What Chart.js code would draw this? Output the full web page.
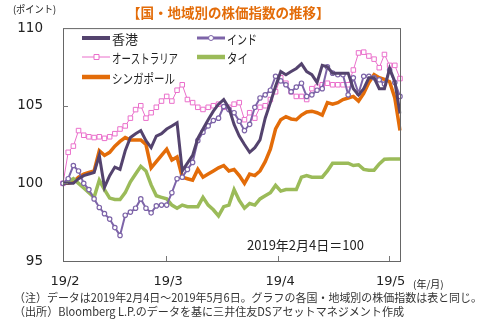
<!DOCTYPE html>
<html>
<head>
<meta charset="utf-8">
<script src="https://cdn.jsdelivr.net/npm/chart.js@4.4.1/dist/chart.umd.min.js"></script>
<style>
  html, body { margin: 0; padding: 0; background: #fff; }
</style>
</head>
<body>
<canvas id="chart" width="497" height="326"></canvas>
<script>
// trading days 2019/2/4 - 2019/5/6
const dates = [
  "2/4","2/5","2/6","2/7","2/8","2/11","2/12","2/13","2/14","2/15",
  "2/18","2/19","2/20","2/21","2/22","2/25","2/26","2/27","2/28","3/1",
  "3/4","3/5","3/6","3/7","3/8","3/11","3/12","3/13","3/14","3/15",
  "3/18","3/19","3/20","3/21","3/22","3/25","3/26","3/27","3/28","3/29",
  "4/1","4/2","4/3","4/4","4/5","4/8","4/9","4/10","4/11","4/12",
  "4/15","4/16","4/17","4/18","4/19","4/22","4/23","4/24","4/25","4/26",
  "4/29","4/30","5/1","5/2","5/3","5/6"
];

const hongKong = [
  100, 100.0, 100.0, 100.3, 100.5, 100.6, 100.7, 101.8, 99.75, 100.5,
  101.05, 100.9, 102.1, 102.95, 103.2, 103.4, 102.75, 102.3, 103.05, 103.2,
  103.5, 103.7, 103.9, 100.8, 101.3, 101.8, 102.9, 103.5, 104.1, 104.65,
  105.1, 105.4, 104.86, 103.8, 103.05, 102.5, 102.0, 102.3, 102.8, 104.2,
  105.2, 106.25, 107.2, 107.0, 107.2, 107.4, 107.7, 107.2, 107.0, 106.5,
  107.6, 107.5, 107.1, 107.1, 107.1, 107.1, 106.1, 105.7, 106.1, 106.8,
  106.8, 106.1, 106.1, 107.4, 106.55, 104.5
];
const india = [
  100, 100.3, 101.15, 100.8, 100.0, 99.6, 99.0, 98.45, 98.05, 97.7,
  97.15, 96.65, 97.95, 98.15, 98.4, 99.0, 98.4, 98.1, 98.55, 98.6,
  98.6, 99.4, 100.3, 100.4, 100.9, 101.35, 102.75, 103.3, 103.7, 104.05,
  104.2, 104.95, 104.75, 104.55, 104.0, 103.4, 103.8, 104.9, 105.5, 105.7,
  106.0, 106.9, 106.6, 106.35, 105.9, 106.2, 106.45, 105.6, 105.7, 106.0,
  106.1, 107.5, 107.1, 107.0, 107.0, 105.7, 106.8, 105.8, 106.9, 106.9,
  106.8, 106.67, 106.4, 107.3, 106.5, 105.6
];
const australia = [
  100, 102.0, 102.4, 103.4, 103.1, 103.0, 102.95, 103.0, 102.9, 103.0,
  103.2, 103.5, 103.7, 104.2, 104.75, 105.0, 104.2, 104.55, 104.9, 105.3,
  105.6, 105.3, 106.0, 106.35, 105.4, 105.2, 104.9, 104.76, 104.9, 105.0,
  105.1, 104.9, 104.9, 105.1, 105.2, 104.1, 104.55, 104.2, 104.9, 105.0,
  105.4, 105.9, 106.8, 106.45, 105.9, 105.6, 105.6, 105.4, 106.1, 106.2,
  106.35, 106.45, 106.35, 106.35, 106.35, 106.35, 107.3, 108.4, 108.45, 108.2,
  108.0, 107.45, 108.3, 107.6, 107.6, 106.75
];
const thai = [
  100.0, 100.1, 100.3, 100.0, 99.7, 99.4, 99.1, 100.2, 99.6, 99.05,
  98.96, 98.96, 99.4, 100.1, 100.6, 101.1, 100.8, 99.9, 99.2, 99.1,
  99.0, 98.6, 98.4, 98.6, 98.5, 98.5, 98.5, 99.1, 98.6, 98.3,
  97.9, 98.5, 98.6, 99.6, 98.9, 98.4, 98.7, 98.6, 99.0, 99.2,
  99.4, 99.87, 99.5, 99.6, 99.6, 99.6, 100.4, 100.5, 100.4, 100.4,
  100.4, 100.8, 101.3, 101.3, 101.3, 101.3, 101.15, 101.2, 100.9, 100.85,
  100.85, 101.25, 101.55, 101.57, 101.57, 101.57
];
const singapore = [
  100.0, 100.0, 100.1, 100.4, 100.6, 100.7, 100.8, 102.1, 101.8, 102.0,
  102.4, 102.7, 102.95, 102.8, 102.8, 102.8, 102.5, 101.0, 101.4, 101.8,
  102.2, 101.5, 101.7, 100.4, 100.3, 100.2, 100.9, 100.4, 100.6, 100.8,
  101.0, 101.15, 100.8, 100.9, 100.5, 100.0, 100.6, 100.5, 100.8, 101.4,
  102.2, 103.5, 104.1, 104.3, 104.15, 104.1, 104.4, 104.6, 104.65, 104.55,
  104.4, 105.2, 105.1, 105.2, 105.4, 105.5, 105.6, 105.3, 105.8, 106.5,
  107.0, 106.8, 106.7, 106.55, 105.5, 103.4
];

const monthLabels = ["19/2", "19/3", "19/4", "19/5"];
const monthTickAt = [0, 19.9, 41.5, 62.8]; // position on the category scale

const JP = '"Noto Sans CJK JP", "Noto Sans", sans-serif';
const NUM = '"DejaVu Sans", sans-serif';

// legend slots inside the plot: [x, y, text max width]
const legendSlots = [[82, 38, 27], [197, 38, 30], [82, 57, 66], [197, 57, 21], [82, 77, 63]];

const decor = {
  id: 'decor',
  afterDraw(chart) {
    const ctx = chart.ctx, a = chart.chartArea;
    const xs = chart.scales.x, ys = chart.scales.y;
    ctx.save();

    // frame
    ctx.strokeStyle = '#666';
    ctx.lineWidth = 1;
    ctx.strokeRect(a.left + 0.5, a.top + 0.5, a.right - a.left, a.bottom - a.top);

    // inward tick marks
    ctx.strokeStyle = '#777';
    ctx.beginPath();
    [100, 105].forEach(v => {
      const py = Math.round(ys.getPixelForValue(v)) + 0.5;
      ctx.moveTo(a.left, py); ctx.lineTo(a.left + 5, py);
    });
    monthTickAt.slice(1).forEach(p => {
      const px = Math.round(xs.getPixelForValue(p)) + 0.5;
      ctx.moveTo(px, a.bottom); ctx.lineTo(px, a.bottom - 5);
    });
    ctx.stroke();

    // month labels
    ctx.fillStyle = '#222';
    ctx.font = '13px ' + NUM;
    ctx.textAlign = 'center';
    ctx.textBaseline = 'middle';
    monthLabels.forEach((t, i) => {
      ctx.fillText(t, xs.getPixelForValue(monthTickAt[i]) + 2, a.bottom + 21);
    });
    ctx.textAlign = 'left';
    ctx.font = '10px ' + JP;
    ctx.fillText('(年/月)', 413, a.bottom + 23);

    // unit
    ctx.font = '10px ' + JP;
    ctx.fillText('(ポイント)', 13, 9, 43);

    // title
    ctx.fillStyle = '#E36C09';
    ctx.font = 'bold 13.5px ' + JP;
    ctx.fillText('【国・地域別の株価指数の推移】', 127, 13, 204);

    // legend
    chart.data.datasets.forEach((ds, i) => {
      const [lx, ly, tw] = legendSlots[i];
      ctx.strokeStyle = ds.borderColor;
      ctx.lineWidth = ds.borderWidth < 2 ? 1 : ds.borderWidth + 1;
      ctx.beginPath(); ctx.moveTo(lx, ly); ctx.lineTo(lx + 28, ly); ctx.stroke();
      if (ds.pointRadius > 0) {
        ctx.lineWidth = 1;
        ctx.fillStyle = '#fff';
        ctx.beginPath();
        if (ds.pointStyle === 'rect') ctx.rect(lx + 12, ly - 2.5, 5, 5);
        else ctx.arc(lx + 14, ly, 2.5, 0, Math.PI * 2);
        ctx.fill(); ctx.stroke();
      }
      ctx.fillStyle = '#222';
      ctx.font = '13px ' + JP;
      ctx.fillText(ds.label, lx + 30, ly + 1, tw);
    });

    // base note
    ctx.fillStyle = '#222';
    ctx.font = '13px ' + JP;
    ctx.fillText('2019年2月4日＝100', 247, 245, 126);

    // footnotes
    ctx.fillStyle = '#333';
    ctx.font = '11.5px ' + JP;
    ctx.fillText('（注）データは2019年2月4日～2019年5月6日。グラフの各国・地域別の株価指数は表と同じ。', 14, 298, 468);
    ctx.fillText('（出所）Bloomberg L.P.のデータを基に三井住友DSアセットマネジメント作成', 14, 312, 390);

    ctx.restore();
  }
};

new Chart(document.getElementById('chart').getContext('2d'), {
  type: 'line',
  data: {
    labels: dates,
    datasets: [
      { label: '香港', data: hongKong, borderColor: '#54436E', borderWidth: 3, pointRadius: 0 },
      { label: 'インド', data: india, borderColor: '#7D64A8', borderWidth: 2, pointRadius: 2.2,
        pointStyle: 'circle', pointBackgroundColor: '#fff', pointBorderColor: '#7D64A8', pointBorderWidth: 1.2 },
      { label: 'オーストラリア', data: australia, borderColor: '#EA6FCB', borderWidth: 1, pointRadius: 3.2,
        pointStyle: 'rect', pointBackgroundColor: '#fff', pointBorderColor: '#EA6FCB', pointBorderWidth: 1 },
      { label: 'タイ', data: thai, borderColor: '#9BBB59', borderWidth: 3.5, pointRadius: 0 },
      { label: 'シンガポール', data: singapore, borderColor: '#E36C09', borderWidth: 3.5, pointRadius: 0 }
    ]
  },
  options: {
    responsive: false,
    animation: false,
    devicePixelRatio: 1,
    layout: { padding: { left: 0, right: 97, top: 25, bottom: 0 } },
    plugins: { legend: { display: false }, tooltip: { enabled: false } },
    scales: {
      x: {
        ticks: { display: false },
        grid: { display: false, drawTicks: false },
        border: { display: false },
        afterFit: s => { s.height = 65; }
      },
      y: {
        min: 95, max: 110,
        ticks: { stepSize: 5, padding: 20, color: '#222', font: { family: NUM, size: 13.5 } },
        grid: { display: false, drawTicks: false },
        border: { display: false },
        afterFit: s => { s.width = 63; }
      }
    }
  },
  plugins: [decor]
});
</script>
</body>
</html>
